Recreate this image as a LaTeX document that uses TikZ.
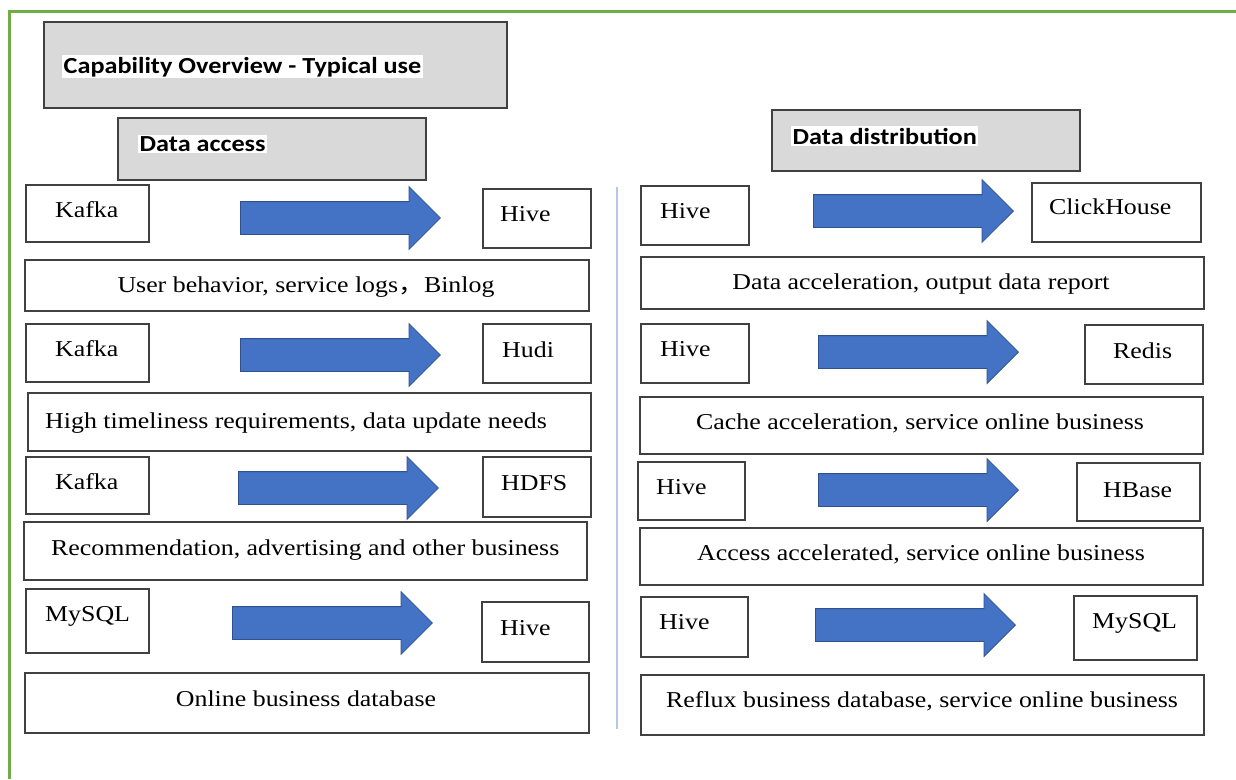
\documentclass[tikz,border=0pt]{standalone}
\usepackage{fontspec}
\setmainfont{Liberation Serif}[FakeStretch=1.14]
\newfontfamily\hdfont{Carlito}[FakeStretch=1.14]
\newfontfamily\cjkfont{Noto Sans CJK SC}[FakeStretch=1.14]
\usetikzlibrary{shapes.arrows}
\definecolor{boxline}{HTML}{404040}
\definecolor{hdgray}{HTML}{D9D9D9}
\definecolor{frgreen}{HTML}{70AD47}
\definecolor{arrblue}{HTML}{4472C4}
\definecolor{arredge}{HTML}{2F528F}
\definecolor{sepblue}{HTML}{B4C7E7}
\tikzset{
  box/.style={draw=boxline, line width=1.7pt, fill=white, inner sep=0pt, anchor=north west},
  hdbox/.style={box, fill=hdgray},
  txt/.style={inner sep=0pt, anchor=base west, font=\fontsize{22.7}{27}\selectfont},
  ctxt/.style={txt, anchor=base},
  hdtxt/.style={inner sep=1.5pt, anchor=base west, fill=white, font=\hdfont\bfseries\fontsize{23}{28}\selectfont},
  barrow/.style={single arrow, draw=arredge, line width=0.8pt, fill=arrblue, inner sep=0pt,
    text height=16pt, text depth=16pt, text width=0pt,
    minimum height=200pt, single arrow head extend=15pt, anchor=west}
}
\newcommand{\bx}[5][box]{\node[#1, minimum width=#4pt, minimum height=#5pt] (#2) at (#3) {};}
\begin{document}
\begin{tikzpicture}[x=1pt,y=-1pt]
\useasboundingbox (0,0) rectangle (1236,779);
% green frame
\draw[frgreen, line width=3pt] (9,779) -- (9,11) -- (1236,11);
% headers
\bx[hdbox]{title}{43,21}{463}{86}
\node[hdtxt] (titlet) at (62,73) {Capability Overview - Typical use};
\bx[hdbox]{acc}{117,117}{308}{62}
\node[hdtxt] (acct) at (138,151) {Data access};
\bx[hdbox]{dist}{771,109}{308}{61}
\node[hdtxt] (distt) at (791,144) {Data distribution};
% separator
\coordinate (sepa) at (617,187);
\coordinate (sepb) at (617,729);
\draw[sepblue, line width=1.5pt] (sepa) -- (sepb);
% ---------- left column ----------
\bx{ka1}{25,184}{123}{57}
\node[txt] (ka1t) at (55,217) {Kafka};
\bx{hi1}{482,188}{108}{59}
\node[txt] (hi1t) at (500,221) {Hive};
\node[barrow] (a1) at (240,218) {};
\bx{d1}{24,259}{564}{51}
\node[ctxt] (d1t) at (306,292) {User behavior, service logs{\cjkfont ，}Binlog};

\bx{ka2}{25,323}{123}{58}
\node[txt] (ka2t) at (55,356) {Kafka};
\bx{hu}{482,323}{108}{59}
\node[txt] (hut) at (502,357) {Hudi};
\node[barrow] (a2) at (240,355) {};
\bx{d2}{27,392}{563}{58}
\node[txt] (d2t) at (45,428) {High timeliness requirements, data update needs};

\bx{ka3}{25,456}{123}{57}
\node[txt] (ka3t) at (55,489) {Kafka};
\bx{hd}{482,456}{108}{60}
\node[txt] (hdt) at (501,490) {HDFS};
\node[barrow] (a3) at (238,488) {};
\bx{d3}{23,521}{563}{58}
\node[txt] (d3t) at (51,555) {Recommendation, advertising and other business};

\bx{my1}{25,588}{123}{64}
\node[txt] (my1t) at (45,621) {MySQL};
\bx{hi4}{481,601}{107}{60}
\node[txt] (hi4t) at (500,635) {Hive};
\node[barrow] (a4) at (232,623) {};
\bx{d4}{24,672}{564}{60}
\node[ctxt] (d4t) at (306,706) {Online business database};
% ---------- right column ----------
\bx{rh1}{640,185}{108}{59}
\node[txt] (rh1t) at (660,218) {Hive};
\bx{ch}{1031,182}{169}{59}
\node[txt] (cht) at (1049,214) {ClickHouse};
\node[barrow] (b1) at (813,211) {};
\bx{e1}{640,256}{563}{52}
\node[ctxt] (e1t) at (921,289) {Data acceleration, output data report};

\bx{rh2}{640,323}{108}{59}
\node[txt] (rh2t) at (660,356) {Hive};
\bx{re}{1084,324}{118}{59}
\node[txt] (ret) at (1113,358) {Redis};
\node[barrow] (b2) at (818,352) {};
\bx{e2}{639,396}{563}{57}
\node[ctxt] (e2t) at (920,429) {Cache acceleration, service online business};

\bx{rh3}{637,461}{107}{58}
\node[txt] (rh3t) at (656,494) {Hive};
\bx{hb}{1076,462}{123}{58}
\node[txt] (hbt) at (1103,497) {HBase};
\node[barrow] (b3) at (818,490) {};
\bx{e3}{639,527}{563}{57}
\node[ctxt] (e3t) at (921,560) {Access accelerated, service online business};

\bx{rh4}{640,596}{107}{60}
\node[txt] (rh4t) at (659,629) {Hive};
\bx{my2}{1073,595}{123}{64}
\node[txt] (my2t) at (1092,628) {MySQL};
\node[barrow] (b4) at (815,625) {};
\bx{e4}{640,674}{563}{60}
\node[ctxt] (e4t) at (922,707) {Reflux business database, service online business};
\end{tikzpicture}
\end{document}
